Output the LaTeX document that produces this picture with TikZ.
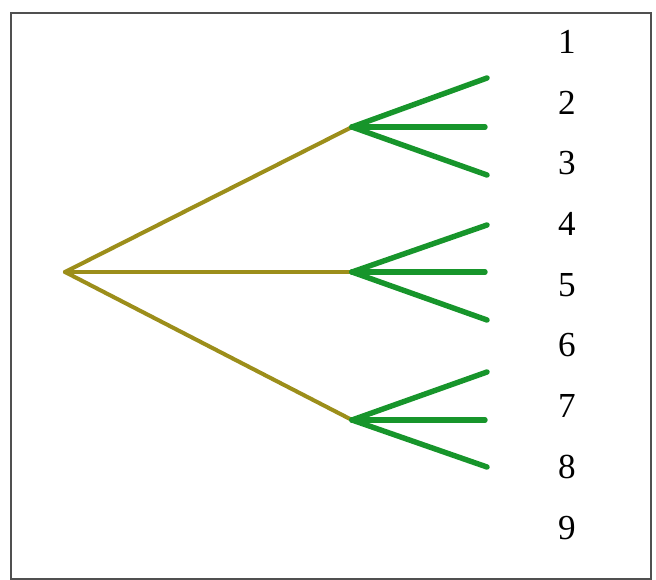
\documentclass[tikz,border=0pt]{standalone}
\usepackage{fontspec}
\setmainfont{Liberation Serif}
\usepackage{xcolor}
\definecolor{olive600}{HTML}{9C8E1A}
\definecolor{green700}{HTML}{17952B}
\definecolor{gray700}{HTML}{505050}
\usetikzlibrary{positioning}

\begin{document}
\begin{tikzpicture}[
        x=0.02cm, y=-0.02cm,
        trunk/.style={draw=olive600, line width=2.3pt, line cap=round},
        twig/.style={draw=green700, line width=3.1pt, line cap=round},
        frame/.style={draw=gray700, line width=1.4pt},
        num/.style={font=\fontsize{20}{24}\selectfont, inner sep=0pt}
    ]
        \useasboundingbox (0,0) rectangle (656,580);
        \draw[frame] (11,13) rectangle (651,579);

        % Root and first branching
        \coordinate (root) at (65,272);
        \coordinate (a) at (352,127);
        \coordinate (b) at (352,272);
        \coordinate (c) at (352,420);
        \draw[trunk] (root) -- (a);
        \draw[trunk] (root) -- (b);
        \draw[trunk] (root) -- (c);

        % Second branching
        \coordinate (a1) at (487,78);
        \coordinate (a2) at (485,127);
        \coordinate (a3) at (487,175);
        \coordinate (b1) at (487,225);
        \coordinate (b2) at (485,272);
        \coordinate (b3) at (487,320);
        \coordinate (c1) at (487,372);
        \coordinate (c2) at (485,420);
        \coordinate (c3) at (487,467);
        \foreach \p in {a,b,c}
            \foreach \q in {1,2,3}
                \draw[twig] (\p) -- (\p\q);

        % Outcome numbers
        \foreach \n [count=\i from 0] in {1,...,9}
            \node[num] (n\n) at (567,{42+60.7*\i}) {\n};
    \end{tikzpicture}
\end{document}
